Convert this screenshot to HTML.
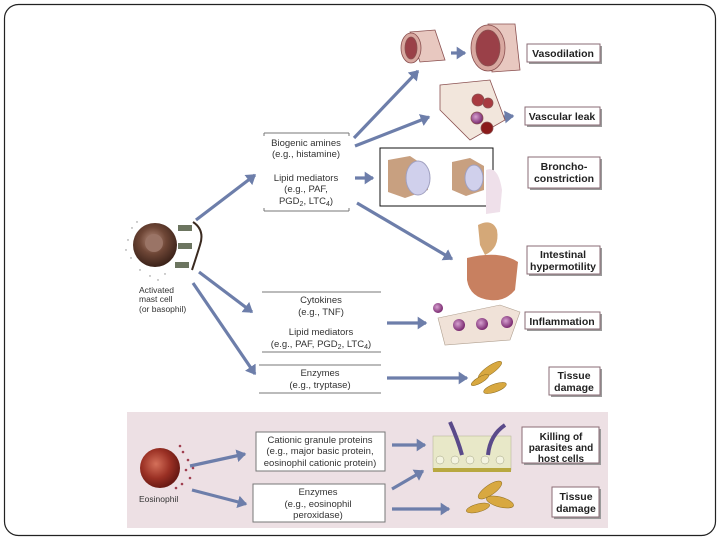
<!DOCTYPE html>
<html><head><meta charset="utf-8"><style>
html,body{margin:0;padding:0;background:#fff;width:720px;height:540px;overflow:hidden}
svg{display:block}
text{font-family:"Liberation Sans",Arial,sans-serif}
</style></head><body>
<svg width="720" height="540" viewBox="0 0 720 540" xmlns="http://www.w3.org/2000/svg">
<defs>
<marker id="ah" markerWidth="4" markerHeight="4" refX="2.6" refY="2" orient="auto" markerUnits="strokeWidth"><path d="M0,0 L3,2 L0,4 Z" fill="#6d7eaa"/></marker>
<radialGradient id="mc" cx="45%" cy="40%" r="60%"><stop offset="0" stop-color="#b89080"/><stop offset="0.5" stop-color="#6e4636"/><stop offset="1" stop-color="#3b2219"/></radialGradient>
<radialGradient id="eo" cx="40%" cy="40%" r="60%"><stop offset="0" stop-color="#d4705a"/><stop offset="0.6" stop-color="#9a3024"/><stop offset="1" stop-color="#6a1a14"/></radialGradient>
<radialGradient id="pc" cx="40%" cy="40%" r="60%"><stop offset="0" stop-color="#d6a0d0"/><stop offset="1" stop-color="#7a2a70"/></radialGradient>
</defs>
<rect x="4.5" y="4.5" width="711" height="531" rx="14" fill="#fff" stroke="#222" stroke-width="1.2"/>
<rect x="127" y="412" width="481" height="116" fill="#ede0e4"/>

<!-- label box shadows -->
<g fill="#9a9a9a">
<rect x="529" y="46" width="73" height="18"/>
<rect x="527" y="109" width="75" height="18"/>
<rect x="530" y="159" width="72" height="31"/>
<rect x="529" y="248" width="73" height="28"/>
<rect x="527" y="314" width="75" height="17"/>
<rect x="551" y="369" width="51" height="28"/>
<rect x="524" y="429" width="77" height="36"/>
<rect x="554" y="489" width="47" height="30"/>
</g>
<g stroke="#8a6b74" stroke-width="1" fill="#fff">
<rect x="527" y="44" width="73" height="18"/>
<rect x="525" y="107" width="75" height="18"/>
<rect x="528" y="157" width="72" height="31"/>
<rect x="527" y="246" width="73" height="28"/>
<rect x="525" y="312" width="75" height="17"/>
<rect x="549" y="367" width="51" height="28"/>
<rect x="522" y="427" width="77" height="36"/>
<rect x="552" y="487" width="47" height="30"/>
</g>
<g font-size="10.5" font-weight="bold" fill="#222" text-anchor="middle">
<text x="563" y="57">Vasodilation</text>
<text x="562" y="120">Vascular leak</text>
<text x="564" y="170">Broncho-</text><text x="564" y="182">constriction</text>
<text x="563" y="258">Intestinal</text><text x="563" y="270">hypermotility</text>
<text x="562" y="325">Inflammation</text>
<text x="574" y="379">Tissue</text><text x="574" y="391">damage</text>
<text x="561" y="440" font-size="10">Killing of</text><text x="561" y="451" font-size="10">parasites and</text><text x="561" y="462" font-size="10">host cells</text>
<text x="576" y="500">Tissue</text><text x="576" y="512">damage</text>
</g>

<!-- mediator boxes -->
<g stroke="#777" stroke-width="1">
<line x1="264" y1="133" x2="349" y2="133"/><line x1="264" y1="211" x2="349" y2="211"/>
<line x1="262" y1="292" x2="381" y2="292"/><line x1="262" y1="352" x2="381" y2="352"/>
<line x1="259" y1="365" x2="381" y2="365"/><line x1="259" y1="393" x2="381" y2="393"/>
<line x1="264" y1="133" x2="264" y2="136"/><line x1="349" y1="133" x2="349" y2="136"/>
<line x1="264" y1="211" x2="264" y2="208"/><line x1="349" y1="211" x2="349" y2="208"/>
</g>
<rect x="256" y="432" width="129" height="39" fill="#fff" stroke="#777"/>
<rect x="253" y="484" width="132" height="38" fill="#fff" stroke="#777"/>
<g font-size="9.5" fill="#333" text-anchor="middle">
<text x="306" y="146">Biogenic amines</text><text x="306" y="157">(e.g., histamine)</text>
<text x="306" y="181">Lipid mediators</text><text x="306" y="192">(e.g., PAF,</text><text x="306" y="204">PGD<tspan font-size="7" dy="2">2</tspan><tspan dy="-2">, LTC</tspan><tspan font-size="7" dy="2">4</tspan><tspan dy="-2">)</tspan></text>
<text x="321" y="303">Cytokines</text><text x="321" y="315">(e.g., TNF)</text>
<text x="321" y="335">Lipid mediators</text><text x="321" y="347">(e.g., PAF, PGD<tspan font-size="7" dy="2">2</tspan><tspan dy="-2">, LTC</tspan><tspan font-size="7" dy="2">4</tspan><tspan dy="-2">)</tspan></text>
<text x="320" y="376">Enzymes</text><text x="320" y="388">(e.g., tryptase)</text>
<text x="320" y="443">Cationic granule proteins</text><text x="320" y="454">(e.g., major basic protein,</text><text x="320" y="466">eosinophil cationic protein)</text>
<text x="318" y="495">Enzymes</text><text x="318" y="507">(e.g., eosinophil</text><text x="318" y="518">peroxidase)</text>
</g>
<g font-size="8.5" fill="#333">
<text x="139" y="293">Activated</text><text x="139" y="302">mast cell</text><text x="139" y="312">(or basophil)</text>
<text x="139" y="502">Eosinophil</text>
</g>

<!-- arrows -->
<g stroke="#6d7eaa" stroke-width="3.2" fill="none" marker-end="url(#ah)">
<line x1="196" y1="220" x2="255" y2="175"/>
<line x1="354" y1="138" x2="418" y2="71"/>
<line x1="355" y1="146" x2="429" y2="117"/>
<line x1="355" y1="178" x2="373" y2="178"/>
<line x1="357" y1="203" x2="452" y2="259"/>
<line x1="199" y1="272" x2="252" y2="312"/>
<line x1="193" y1="283" x2="255" y2="374"/>
<line x1="387" y1="323" x2="426" y2="323"/>
<line x1="387" y1="378" x2="467" y2="378"/>
<line x1="437" y1="178" x2="449" y2="178"/>
<line x1="451" y1="53" x2="465" y2="53"/>
<line x1="190" y1="466" x2="245" y2="454"/>
<line x1="192" y1="490" x2="246" y2="504"/>
<line x1="392" y1="445" x2="425" y2="445"/>
<line x1="392" y1="489" x2="423" y2="471"/>
<line x1="392" y1="509" x2="449" y2="509"/>
<line x1="496" y1="118" x2="513" y2="116"/>
</g>

<!-- mast cell -->
<g fill="#888"><circle cx="132" cy="228" r=".7"/><circle cx="128" cy="240" r=".7"/><circle cx="131" cy="258" r=".7"/><circle cx="140" cy="270" r=".7"/><circle cx="150" cy="276" r=".7"/><circle cx="165" cy="274" r=".7"/><circle cx="137" cy="222" r=".7"/><circle cx="126" cy="250" r=".7"/><circle cx="158" cy="280" r=".7"/></g>
<circle cx="155" cy="245" r="22" fill="url(#mc)"/>
<circle cx="154" cy="243" r="9" fill="#9a7466"/>
<path d="M193,222 Q205,230 200,245 Q196,258 192,270" stroke="#3a2a20" stroke-width="2" fill="none"/>
<g fill="#6c7560"><rect x="178" y="225" width="14" height="6"/><rect x="178" y="243" width="14" height="6"/><rect x="175" y="262" width="14" height="6"/></g>

<!-- eosinophil -->
<g fill="#a04050"><circle cx="183" cy="452" r="1.3"/><circle cx="188" cy="460" r="1.3"/><circle cx="186" cy="470" r="1.3"/><circle cx="190" cy="478" r="1.3"/><circle cx="182" cy="484" r="1.3"/><circle cx="180" cy="446" r="1.3"/><circle cx="176" cy="488" r="1.3"/><circle cx="193" cy="468" r="1.3"/></g>
<circle cx="160" cy="468" r="20" fill="url(#eo)"/>

<!-- vessels -->
<g stroke="#8a5050" stroke-width="0.8">
<path d="M410,32 L435,30 L445,60 L420,62 Z" fill="#e8c8c0"/>
<ellipse cx="411" cy="48" rx="10" ry="15" fill="#d8a8a0"/><ellipse cx="411" cy="48" rx="6" ry="11" fill="#9a4048"/>
<path d="M488,24 L515,24 L520,70 L492,72 Z" fill="#e8c8c0"/>
<ellipse cx="488" cy="48" rx="17" ry="23" fill="#d8a8a0"/><ellipse cx="488" cy="48" rx="12" ry="18" fill="#9a4048"/>
<path d="M440,85 L490,80 L505,120 L470,140 L440,110 Z" fill="#f2e6dc"/>
<circle cx="478" cy="100" r="6" fill="#a83a40"/><circle cx="488" cy="103" r="5" fill="#a83a40"/>
<circle cx="477" cy="118" r="6" fill="url(#pc)"/><circle cx="487" cy="128" r="6" fill="#8a1a1a"/>
</g>
<!-- bronch -->
<rect x="380" y="148" width="113" height="58" fill="#fff" stroke="#111" stroke-width="1"/>
<path d="M388,160 L410,156 L428,168 L428,190 L405,198 L388,192 Z" fill="#c8a080"/>
<ellipse cx="418" cy="178" rx="12" ry="17" fill="#d0d0ec" stroke="#a0a0c0"/>
<path d="M452,162 L470,158 L484,166 L484,190 L466,196 L452,190 Z" fill="#c8a080"/>
<ellipse cx="474" cy="178" rx="9" ry="13" fill="#d0d0ec" stroke="#a0a0c0"/>
<path d="M486,170 Q498,165 502,190 L500,212 L486,214 Z" fill="#efe0ea"/>
<!-- gut -->
<path d="M478,225 Q492,218 497,230 Q500,248 485,255 L480,245 Z" fill="#d4a878"/>
<path d="M467,258 Q500,250 518,262 L515,290 Q505,302 490,300 Q470,298 467,280 Z" fill="#c88060"/>
<!-- inflammation -->
<path d="M438,318 L500,305 L520,312 L510,340 L445,345 Z" fill="#f0e2d8" stroke="#b0a090" stroke-width=".6"/>
<circle cx="438" cy="308" r="5" fill="url(#pc)"/>
<circle cx="459" cy="325" r="6" fill="url(#pc)"/><circle cx="482" cy="324" r="6" fill="url(#pc)"/><circle cx="507" cy="322" r="6" fill="url(#pc)"/>
<!-- tissue damage -->
<g fill="#d8a840" stroke="#8a6a20" stroke-width=".5">
<ellipse cx="490" cy="370" rx="14" ry="4" transform="rotate(-35 490 370)"/>
<ellipse cx="495" cy="388" rx="12" ry="4" transform="rotate(-20 495 388)"/>
<ellipse cx="480" cy="380" rx="10" ry="3" transform="rotate(-30 480 380)"/>
<ellipse cx="490" cy="490" rx="14" ry="5" transform="rotate(-35 490 490)"/>
<ellipse cx="500" cy="502" rx="14" ry="5" transform="rotate(15 500 502)"/>
<ellipse cx="478" cy="508" rx="12" ry="4" transform="rotate(-15 478 508)"/>
</g>
<!-- killing -->
<rect x="433" y="436" width="78" height="34" fill="#e8e8c8" stroke="#b0b090" stroke-width=".5"/>
<rect x="433" y="468" width="78" height="4" fill="#b8a840"/>
<g fill="#f4f4e0" stroke="#a0a080" stroke-width=".5"><circle cx="440" cy="460" r="4"/><circle cx="455" cy="460" r="4"/><circle cx="470" cy="460" r="4"/><circle cx="485" cy="460" r="4"/><circle cx="500" cy="460" r="4"/></g>
<path d="M450,422 Q458,440 462,455" stroke="#5a4a8a" stroke-width="4" fill="none"/>
<path d="M505,425 Q490,435 488,455" stroke="#5a4a8a" stroke-width="4" fill="none"/>
</svg>
</body></html>
